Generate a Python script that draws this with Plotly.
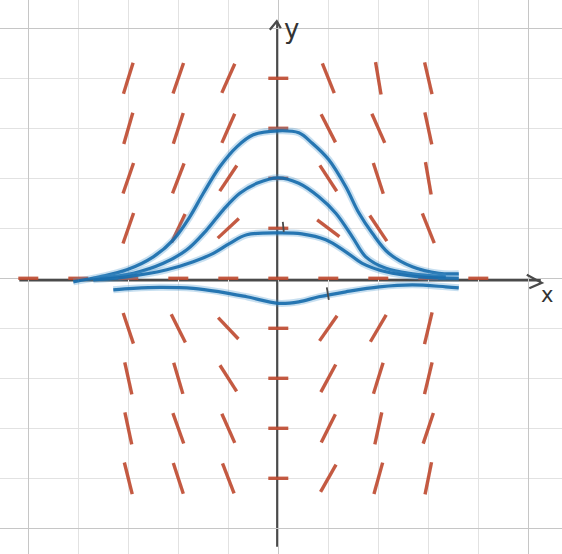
import math
import plotly.graph_objects as go

# ---------------- data ----------------
# slope-field grid (columns x, rows y) and the slope drawn at each point
field_x = [-3, -2, -1, 0, 1, 2, 3]
field_rows_y = [4, 3, 2, 1, -1, -2, -3, -4]
field_slopes = [
    [3.2, 2.9, 2.24, 0, -2.5, -5.9, -4.3],
    [3.46, 3.1, 2.27, 0, -1.96, -2.26, -4.6],
    [2.9, 2.6, 1.5, 0, -1.53, -3.1, -5.7],
    [2.87, 2.1, 0.93, 0, -0.75, -1.5, -2.5],
    [-3.0, -2.0, -1.06, 0, 1.43, 1.7, 4.2],
    [-4.5, -3.4, -1.56, 0, 1.86, 3.2, 4.2],
    [-4.66, -2.8, -2.25, 0, 2.0, 4.6, 3.0],
    [-4.0, -3.07, -2.6, 0, 1.76, 3.6, 4.96],
]
# marks along the x axis (y = 0), all flat
axis_marks_x = [-5, -4, -3, -2, -1, 0, 1, 2, 3, 4]
axis_marks_slope = [0, 0, 0, 0, 0, 0, 0, 0, 0, 0]

# solution curves sketched in blue
curve_top_x = [-4.1, -3.57, -3.03, -2.5, -2.1, -1.77, -1.5, -1.17, -0.83, -0.5, 0.0,
               0.41, 0.68, 1.01, 1.35, 1.61, 1.88, 2.21, 2.68, 3.21, 3.61]
curve_top_y = [-0.07, 0.03, 0.17, 0.43, 0.77, 1.23, 1.7, 2.23, 2.63, 2.87, 2.95,
               2.91, 2.7, 2.37, 1.83, 1.31, 0.9, 0.5, 0.23, 0.1, 0.09]
curve_mid_x = [-3.57, -2.9, -2.3, -1.83, -1.43, -1.1, -0.77, -0.43, 0.0,
               0.41, 0.81, 1.15, 1.48, 1.75, 2.15, 2.68, 3.35]
curve_mid_y = [0.0, 0.1, 0.3, 0.57, 0.97, 1.37, 1.7, 1.9, 2.01,
               1.9, 1.63, 1.3, 0.83, 0.43, 0.2, 0.09, 0.03]
curve_low_x = [-3.7, -3.03, -2.23, -1.7, -1.3, -0.97, -0.63, 0.0,
               0.47, 0.95, 1.35, 1.68, 2.15, 2.82, 3.61]
curve_low_y = [-0.03, 0.03, 0.17, 0.33, 0.5, 0.7, 0.87, 0.91,
               0.89, 0.77, 0.53, 0.3, 0.13, 0.03, 0.0]
curve_neg_x = [-3.3, -2.9, -2.37, -1.7, -1.17, -0.63, 0.0,
               0.41, 0.81, 1.35, 2.02, 2.68, 3.35, 3.61]
curve_neg_y = [-0.23, -0.2, -0.18, -0.2, -0.27, -0.37, -0.5,
               -0.47, -0.37, -0.27, -0.17, -0.13, -0.17, -0.19]

# ---------------- styles ----------------
RED = "rgba(190,72,46,0.9)"
BLUE = "rgba(24,108,172,0.92)"
BLUE_HALO = "rgba(70,150,205,0.30)"
AXIS = "#4a4a4a"

fig = go.Figure()


def add_marks(xs, ys, slopes):
    px, py = [], []
    for x, y, m in zip(xs, ys, slopes):
        th = math.atan(m)
        L = 0.4 + 0.26 * abs(math.sin(th))
        dx, dy = 0.5 * L * math.cos(th), 0.5 * L * math.sin(th)
        px += [x - dx, x + dx, None]
        py += [y - dy, y + dy, None]
    fig.add_trace(go.Scatter(x=px, y=py, mode="lines",
                             line=dict(color=RED, width=3.4),
                             hoverinfo="skip"))


gx, gy, gs = [], [], []
for ry, row in zip(field_rows_y, field_slopes):
    for cx, s in zip(field_x, row):
        gx.append(cx)
        gy.append(ry)
        gs.append(s)
add_marks(gx, gy, gs)
add_marks(axis_marks_x, [0] * len(axis_marks_x), axis_marks_slope)

for cx, cy in [(curve_top_x, curve_top_y), (curve_mid_x, curve_mid_y),
               (curve_low_x, curve_low_y), (curve_neg_x, curve_neg_y)]:
    fig.add_trace(go.Scatter(x=cx, y=cy, mode="lines",
                             line=dict(color=BLUE_HALO, width=7, shape="spline"),
                             hoverinfo="skip"))
    fig.add_trace(go.Scatter(x=cx, y=cy, mode="lines",
                             line=dict(color=BLUE, width=3.2, shape="spline"),
                             hoverinfo="skip"))

# hand-drawn axes with arrow heads
shapes = [
    dict(type="line", x0=-5.18, y0=-0.04, x1=5.25, y1=-0.04,
         line=dict(color=AXIS, width=2.4), layer="below"),
    dict(type="line", x0=-0.02, y0=-5.37, x1=-0.02, y1=5.13,
         line=dict(color=AXIS, width=2.4), layer="below"),
    dict(type="path", path="M -0.17 4.97 L -0.03 5.14 L 0.05 5.0",
         line=dict(color=AXIS, width=2.2)),
    dict(type="path", path="M 4.97 0.07 L 5.27 -0.09 L 5.02 -0.2",
         line=dict(color=AXIS, width=2.2)),
    dict(type="line", x0=0.97, y0=-0.18, x1=1.01, y1=-0.43,
         line=dict(color=AXIS, width=1.8)),
    dict(type="line", x0=0.09, y0=1.13, x1=0.11, y1=0.93,
         line=dict(color=AXIS, width=1.8)),
]

fig.update_layout(
    width=562, height=554,
    margin=dict(l=0, r=0, t=0, b=0),
    paper_bgcolor="white", plot_bgcolor="white",
    showlegend=False,
    shapes=shapes,
    annotations=[
        dict(x=0.27, y=4.98, text="y", showarrow=False,
             font=dict(family="DejaVu Sans", size=26, color="#333")),
        dict(x=5.37, y=-0.33, text="x", showarrow=False,
             font=dict(family="DejaVu Sans", size=21, color="#333")),
    ],
)
fig.update_xaxes(range=[-5.566, 5.674], dtick=5, tick0=0, showgrid=True,
                 gridcolor="#c6c6c6", gridwidth=1,
                 minor=dict(dtick=1, showgrid=True, gridcolor="#e2e2e2", gridwidth=1),
                 showticklabels=False, zeroline=False, showline=False, ticks="")
fig.update_yaxes(range=[-5.514, 5.566], dtick=5, tick0=0, showgrid=True,
                 gridcolor="#c6c6c6", gridwidth=1,
                 minor=dict(dtick=1, showgrid=True, gridcolor="#e2e2e2", gridwidth=1),
                 showticklabels=False, zeroline=False, showline=False, ticks="",
                 scaleanchor="x", scaleratio=1)

fig.write_html("out.html",
               config={"displayModeBar": False},
               post_script="document.body.style.margin='0';"
                           "document.body.style.overflow='hidden';")
